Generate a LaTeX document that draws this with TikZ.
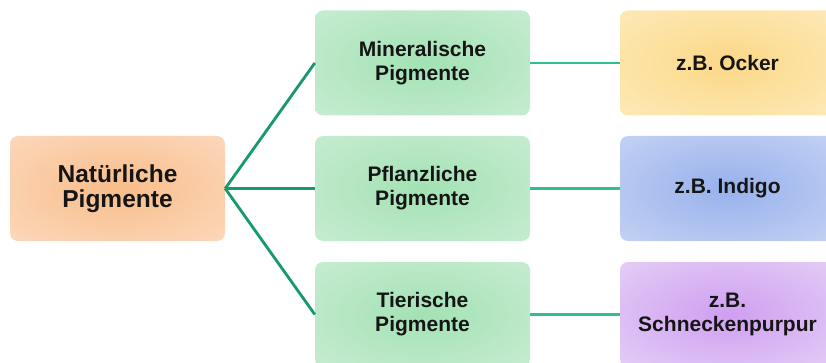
\documentclass[tikz,border=0pt]{standalone}
\usepackage{fontspec}
\setmainfont{Liberation Sans}
\definecolor{rootin}{HTML}{F8BD8A}
\definecolor{rootout}{HTML}{FDE3D0}
\definecolor{grnin}{HTML}{A3E2B4}
\definecolor{grnout}{HTML}{D5F0DD}
\definecolor{yelin}{HTML}{FCD887}
\definecolor{yelout}{HTML}{FDF0CB}
\definecolor{bluin}{HTML}{98B1EC}
\definecolor{bluout}{HTML}{D4DEF6}
\definecolor{purin}{HTML}{CF9FF0}
\definecolor{purout}{HTML}{ECDFF9}
\definecolor{linedark}{HTML}{169A6C}
\definecolor{linelight}{HTML}{2CC08F}
\definecolor{txt}{HTML}{151515}
\pgfdeclareradialshading{rootsh}{\pgfpoint{0bp}{0bp}}{color(0bp)=(rootin); color(50bp)=(rootout); color(72bp)=(rootout)}
\pgfdeclareradialshading{grnsh}{\pgfpoint{0bp}{0bp}}{color(0bp)=(grnin); color(50bp)=(grnout); color(72bp)=(grnout)}
\pgfdeclareradialshading{yelsh}{\pgfpoint{0bp}{0bp}}{color(0bp)=(yelin); color(50bp)=(yelout); color(72bp)=(yelout)}
\pgfdeclareradialshading{blush}{\pgfpoint{0bp}{0bp}}{color(0bp)=(bluin); color(50bp)=(bluout); color(72bp)=(bluout)}
\pgfdeclareradialshading{pursh}{\pgfpoint{0bp}{0bp}}{color(0bp)=(purin); color(50bp)=(purout); color(72bp)=(purout)}
\begin{document}
\begin{tikzpicture}[x=1pt,y=-1pt,
  box/.style={rounded corners=8pt, minimum width=215pt, minimum height=105pt,
    align=center, inner sep=0pt, text=txt,
    font=\bfseries\fontsize{21}{24}\selectfont},
  rootbox/.style={box, shading=rootsh, font=\bfseries\fontsize{24.5}{25}\selectfont},
  grnbox/.style={box, shading=grnsh},
  yelbox/.style={box, shading=yelsh},
  blubox/.style={box, shading=blush},
  purbox/.style={box, shading=pursh},
  conA/.style={draw=linedark, line width=2.8pt},
  conB/.style={draw=linelight, line width=2.4pt}]
\clip (0,0) rectangle (826,363);
\node[rootbox] (root) at (117.5,188.5) {Natürliche\\Pigmente};
\node[grnbox] (m1) at (422.5,63) {Mineralische\\Pigmente};
\node[grnbox] (m2) at (422.5,188.5) {Pflanzliche\\Pigmente};
\node[grnbox] (m3) at (422.5,314.5) {Tierische\\Pigmente};
\node[yelbox] (r1) at (727.5,63) {z.B. Ocker};
\node[blubox] (r2) at (727.5,188.5) {z.B. Indigo};
\node[purbox] (r3) at (727.5,314.5) {z.B.\\Schneckenpurpur};
\draw[conA] (root.east) -- (m1.west);
\draw[conA] (root.east) -- (m2.west);
\draw[conA] (root.east) -- (m3.west);
\draw[conB] (m1.east) -- (r1.west);
\draw[conB] (m2.east) -- (r2.west);
\draw[conB] (m3.east) -- (r3.west);
\end{tikzpicture}
\end{document}
